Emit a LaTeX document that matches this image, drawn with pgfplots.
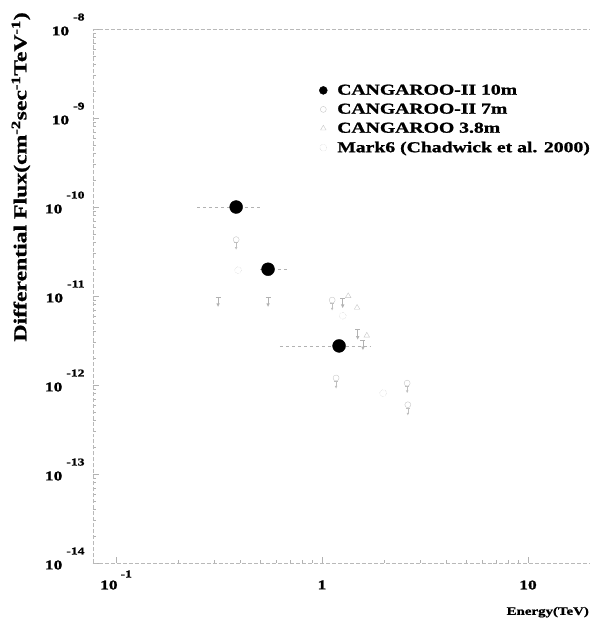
\documentclass[border=0pt]{standalone}
\usepackage{pgfplots}
\pgfplotsset{compat=1.18}
\usepackage{fontspec}
\setmainfont[FakeStretch=1.3, BoldFeatures={FakeBold=1.2}]{Liberation Serif}
\newcommand{\tl}[1]{10\hspace{4pt}\smash{\raisebox{15pt}{\fontsize{10.5}{11}\selectfont #1}}}
\newcommand{\xl}[1]{10\hspace{3pt}\smash{\raisebox{12pt}{\fontsize{10.5}{11}\selectfont #1}}}
\pgfdeclareplotmark{ul}{%
 \pgfpathmoveto{\pgfqpoint{-\pgfplotmarksize}{0pt}}%
 \pgfpathlineto{\pgfqpoint{\pgfplotmarksize}{0pt}}%
 \pgfpathmoveto{\pgfqpoint{0pt}{0pt}}%
 \pgfpathlineto{\pgfqpoint{0pt}{-3\pgfplotmarksize}}%
 \pgfusepathqstroke
 \pgfpathmoveto{\pgfqpoint{-0.7\pgfplotmarksize}{-2.6\pgfplotmarksize}}%
 \pgfpathlineto{\pgfqpoint{0pt}{-4\pgfplotmarksize}}%
 \pgfpathlineto{\pgfqpoint{0.7\pgfplotmarksize}{-2.6\pgfplotmarksize}}%
 \pgfpathclose
 \pgfusepathqfill
}
\begin{document}
\begin{tikzpicture}
\useasboundingbox (-93bp,-57bp) rectangle (500bp,563bp);
\begin{axis}[
 scale only axis, width=497bp, height=534bp,
 xmode=log, ymode=log,
 xmin=0.0773, xmax=20, ymin=1e-14, ymax=1e-8,
 axis x line*=bottom, axis y line*=left,
 axis line style={gray!55, dash pattern=on 4pt off 2pt, line width=0.6pt, -},
 tick style={gray!60, line width=0.5pt},
 tick align=inside,
 major tick length=6pt, minor tick length=3pt,
 xtick={0.1,1,10}, xticklabels={\xl{-1},1,10},
 ytick={1e-14,1e-13,1e-12,1e-11,1e-10,1e-9,1e-8},
 yticklabels={\tl{-14},\tl{-13},\tl{-12},\tl{-11},\tl{-10},\tl{-9},\tl{-8}},
 xticklabel style={font=\bfseries\fontsize{13.5}{14}\selectfont, yshift=-14pt},
 yticklabel style={font=\bfseries\fontsize{13.5}{14}\selectfont, xshift=-5pt, yshift=-2pt},
 ylabel={Differential Flux(cm\textsuperscript{-2}sec\textsuperscript{-1}TeV\textsuperscript{-1})},
 ylabel style={at={(axis description cs:-0.145,0.723)}, anchor=center, rotate=0, font=\bfseries\fontsize{18.3}{20}\selectfont},
 xlabel={Energy(TeV)},
 xlabel style={at={(axis description cs:0.915,-0.092)}, anchor=center, font=\bfseries\fontsize{11.5}{13}\selectfont},
 legend cell align=left,
 legend style={at={(axis description cs:0.455,0.900)}, anchor=north west, draw=none, fill=none,
   font=\bfseries\fontsize{15.2}{17}\selectfont, row sep=3.5pt, column sep=8pt, inner sep=0pt},
 clip=false,
 extra description/.code={\draw[gray!55, dash pattern=on 4pt off 2pt, line width=0.6pt] (rel axis cs:0,1) -- (rel axis cs:1,1);},
]
% CANGAROO-II 10m
\addplot[only marks, mark=*, mark size=6.5pt, black, legend image post style={mark size=4pt}] coordinates {
 (0.383,1.0e-10) (0.547,2.0e-11) (1.21,2.75e-12)};
\addlegendentry{\textbf{CANGAROO-II 10m}}
% CANGAROO-II 7m
\addplot[only marks, mark=o, mark size=3pt, gray!45, thin] coordinates {
 (0.383,4.3e-11) (1.12,9.0e-12) (1.17,1.2e-12) (2.59,1.05e-12) (2.61,6.0e-13)};
\addlegendentry{\textbf{CANGAROO-II 7m}}
% CANGAROO 3.8m
\addplot[only marks, mark=triangle, mark size=3.2pt, gray!45, thin] coordinates {
 (1.34,1.0e-11) (1.48,7.4e-12) (1.65,3.6e-12)};
\addlegendentry{\textbf{CANGAROO 3.8m}}
% Mark6
\addplot[only marks, mark=o, mark size=3.5pt, gray!45, mark options={densely dotted}] coordinates {
 (0.391,1.95e-11) (1.26,6.0e-12) (1.98,8.1e-13)};
\addlegendentry{\textbf{Mark6 (Chadwick et al. 2000)}}
% horizontal error bars of 10m points
\addplot[gray!60, dash pattern=on 3pt off 3pt, forget plot] coordinates {(0.248,1.0e-10) (0.50,1.0e-10)};
\addplot[gray!60, dash pattern=on 3pt off 3pt, forget plot] coordinates {(0.50,2.0e-11) (0.684,2.0e-11)};
\addplot[gray!60, dash pattern=on 3pt off 3pt, forget plot] coordinates {(0.625,2.75e-12) (1.71,2.75e-12)};
% upper limits
\addplot[only marks, mark=ul, mark size=2.5pt, gray!60, forget plot] coordinates {
 (0.313,9.8e-12) (0.547,9.8e-12) (1.26,9.5e-12) (1.49,4.2e-12) (1.58,3.2e-12)};
\addplot[only marks, mark=ul, mark size=1.8pt, gray!50, forget plot] coordinates {
 (0.383,4.0e-11) (1.12,8.3e-12) (1.17,1.1e-12) (2.59,9.8e-13) (2.61,5.5e-13)};
\end{axis}
\end{tikzpicture}
\end{document}
